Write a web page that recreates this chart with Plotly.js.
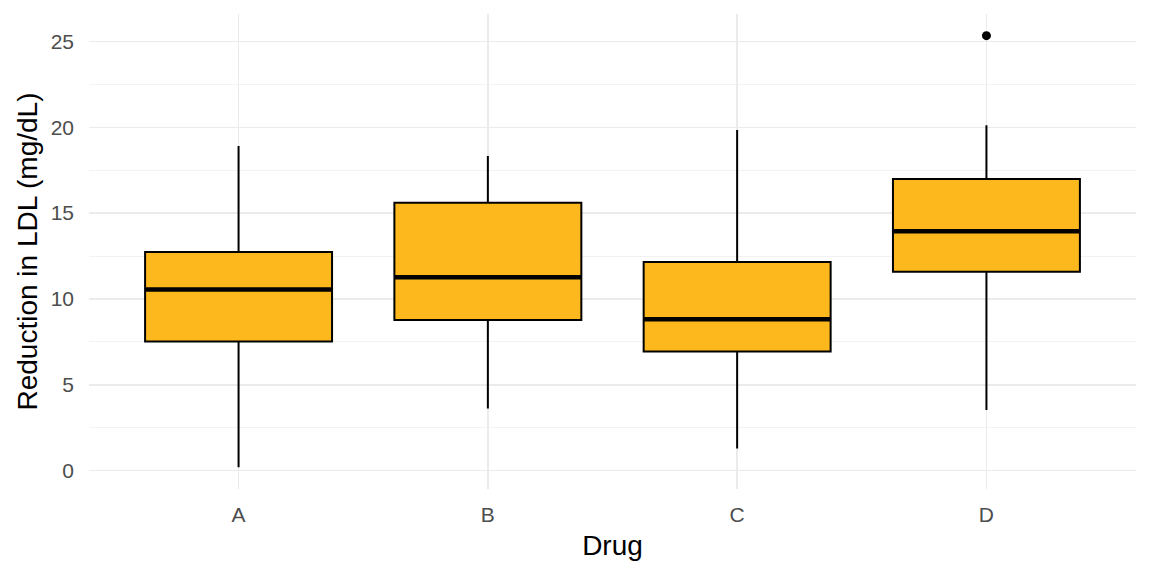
<!DOCTYPE html>
<html>
<head>
<meta charset="utf-8">
<script src="https://cdn.plot.ly/plotly-3.0.1.min.js"></script>
<style>html,body{margin:0;padding:0;background:#fff;}#chart{width:1152px;height:576px;}</style>
</head>
<body>
<div id="chart"></div>
<script>
// Data
const drugs = ["A", "B", "C", "D"];
const lowerWhisker = [0.20, 3.63, 1.30, 3.54];
const q1 = [7.52, 8.78, 6.95, 11.59];
const median = [10.56, 11.26, 8.82, 13.94];
const q3 = [12.74, 15.61, 12.16, 16.99];
const upperWhisker = [18.91, 18.33, 19.84, 20.12];
const outlierDrug = ["D"];
const outlierValue = [25.33];
const yTicks = [0, 5, 10, 15, 20, 25];
const yMinorTicks = [2.5, 7.5, 12.5, 17.5, 22.5];

const boxWidth = 0.75;
const pos = drugs.map((d, i) => i);

const boxTrace = {
  type: "box",
  x: pos,
  q1: q1, median: median, q3: q3,
  lowerfence: lowerWhisker, upperfence: upperWhisker,
  width: boxWidth,
  whiskerwidth: 0,
  fillcolor: "#FDB81E",
  line: {color: "#000000", width: 2},
  boxpoints: false,
  hoverinfo: "skip",
  showlegend: false
};

// thicker median bars
const mx = [], my = [];
median.forEach((m, i) => {
  mx.push(pos[i] - boxWidth / 2, pos[i] + boxWidth / 2, null);
  my.push(m, m, null);
});
const medianTrace = {
  type: "scatter", mode: "lines", x: mx, y: my,
  line: {color: "#000000", width: 4.5}, hoverinfo: "skip", showlegend: false
};

const outlierTrace = {
  type: "scatter", mode: "markers",
  x: outlierDrug.map(d => drugs.indexOf(d)), y: outlierValue,
  marker: {color: "#000000", size: 9}, hoverinfo: "skip", showlegend: false
};

const layout = {
  width: 1152, height: 576,
  margin: {l: 89, r: 16, t: 14, b: 87, autoexpand: false},
  paper_bgcolor: "#ffffff", plot_bgcolor: "#ffffff",
  font: {family: "Liberation Sans, Arial, sans-serif"},
  showlegend: false,
  xaxis: {
    range: [-0.6, 3.6],
    tickvals: pos, ticktext: drugs,
    showgrid: true, gridcolor: "#EBEBEB", gridwidth: 1.4,
    zeroline: false, showline: false, ticks: "",
    ticklabelstandoff: 11,
    automargin: false,
    tickfont: {size: 21, color: "#4D4D4D"},
    title: {text: "Drug", font: {size: 28, color: "#000000"}, standoff: 10}
  },
  yaxis: {
    range: [-1.06, 26.59],
    tickvals: yTicks,
    showgrid: true, gridcolor: "#EBEBEB", gridwidth: 1.4,
    minor: {tickvals: yMinorTicks, showgrid: true, gridcolor: "#EFEFEF", gridwidth: 0.8, ticks: ""},
    zeroline: false, showline: false, ticks: "",
    ticklabelstandoff: 14,
    automargin: false,
    tickfont: {size: 21, color: "#4D4D4D"},
    title: {text: "Reduction in LDL (mg/dL)", font: {size: 28, color: "#000000"}, standoff: 4}
  }
};

Plotly.newPlot("chart", [boxTrace, medianTrace, outlierTrace], layout, {staticPlot: true, displayModeBar: false});
</script>
</body>
</html>
